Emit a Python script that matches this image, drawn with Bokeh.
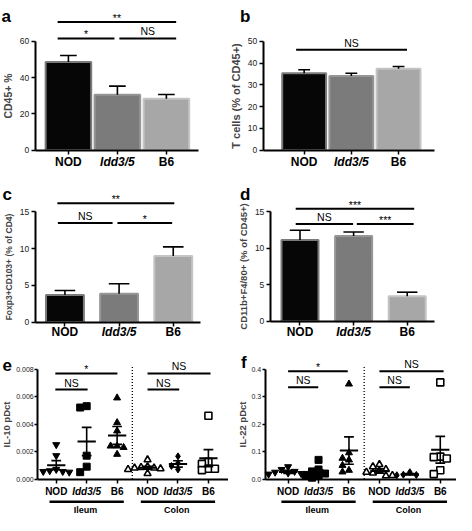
import numpy as np
from bokeh.plotting import figure
from bokeh.models import (Range1d, FixedTicker, CustomJSTickFormatter, PrintfTickFormatter)
from bokeh.layouts import gridplot
from bokeh.embed import file_html
from bokeh.resources import INLINE
from bokeh.core.properties import value

FONT = "Liberation Sans"
W = 228

# ---------------- data ----------------
groups = ["NOD", "Idd3/5", "B6"]
group_styles = ["bold", "bold italic", "bold"]

# panel a
a_mean = [48.6, 30.5, 28.3]
a_sem = [3.6, 4.8, 2.4]
a_ticks = [0, 20, 40, 60]
a_ylabel = "CD45+ %"
a_sig_x0 = [0.78, 0.78, 2.04]
a_sig_x1 = [3.20, 1.94, 3.20]
a_sig_y = [70.7, 61.6, 61.6]
a_sig_txt = ["**", "*", "NS"]

# panel b
b_mean = [35.3, 34.0, 37.4]
b_sem = [1.6, 1.3, 1.0]
b_ticks = [0, 10, 20, 30, 40, 50]
b_ylabel = "T cells (% of CD45+)"
b_sig_x0 = [0.83]
b_sig_x1 = [3.18]
b_sig_y = [46.1]
b_sig_txt = ["NS"]

# panel c
c_mean = [3.7, 3.85, 9.0]
c_sem = [0.6, 1.37, 1.25]
c_ticks = [0, 5, 10, 15]
c_ylabel = "Foxp3+CD103+ (% of CD4)"
c_sig_x0 = [0.86, 0.87, 1.97]
c_sig_x1 = [3.02, 1.88, 2.98]
c_sig_y = [16.2, 13.5, 13.5]
c_sig_txt = ["**", "NS", "*"]

# panel d
d_mean = [11.15, 11.7, 3.45]
d_sem = [1.35, 0.55, 0.55]
d_ticks = [0, 5, 10, 15]
d_ylabel = "CD11b+F4/80+ (% of CD45+)"
d_sig_x0 = [0.92, 0.92, 2.06]
d_sig_x1 = [3.13, 1.99, 3.12]
d_sig_y = [15.45, 13.36, 13.36]
d_sig_txt = ["***", "NS", "***"]

sites = ["Ileum", "Colon"]

# panel e  (IL-10), order: Ileum NOD, Idd3/5, B6, Colon NOD, Idd3/5, B6
e_ileum_nod = [0.0025, 0.0017, 0.0007, 0.0006, 0.00055, 0.0005, 0.00055]
e_ileum_idd = [0.0052, 0.0053, 0.0017, 0.0009, 0.0005]
e_ileum_b6 = [0.0059, 0.0041, 0.0035, 0.0024, 0.0023, 0.0024, 0.0018]
e_colon_nod = [0.0014, 0.0009, 0.0008, 0.00075, 0.0007, 0.0008, 0.00085, 0.0004]
e_colon_idd = [0.00165, 0.00115, 0.00095, 0.0007]
e_colon_b6 = [0.0046, 0.00125, 0.0011, 0.00075, 0.00065, 0.00075]
e_mean = [0.00101, 0.00273, 0.00317, 0.00082, 0.0011, 0.00152]
e_sem = [0.00033, 0.00103, 0.00065, 0.00010, 0.00023, 0.00062]
e_ticks = [0.0, 0.002, 0.004, 0.006, 0.008]
e_ylabel = "IL-10 pDct"
e_sig_x0 = [0.97, 0.97, 4.0, 4.0]
e_sig_x1 = [3.01, 2.03, 6.07, 5.04]
e_sig_y = [0.00768, 0.00651, 0.00768, 0.00651]
e_sig_txt = ["*", "NS", "NS", "NS"]

# panel f  (IL-22)
f_ileum_nod = [0.045, 0.035, 0.028, 0.025, 0.022, 0.02, 0.018]
f_ileum_idd = [0.07, 0.035, 0.028, 0.02, 0.015, 0.012, 0.005]
f_ileum_b6 = [0.347, 0.096, 0.076, 0.07, 0.05, 0.032, 0.026]
f_colon_nod = [0.053, 0.045, 0.035, 0.03, 0.025, 0.022, 0.013, 0.012]
f_colon_idd = [0.025, 0.016, 0.015, 0.014]
f_colon_b6 = [0.353, 0.082, 0.08, 0.075, 0.032, 0.018]
f_mean = [0.026, 0.026, 0.104, 0.029, 0.0175, 0.107]
f_sem = [0.0055, 0.008, 0.05, 0.008, 0.0025, 0.049]
f_ticks = [0.0, 0.1, 0.2, 0.3, 0.4]
f_ylabel = "IL-22 pDct"
f_sig_x0 = [1.0, 1.0, 4.0, 4.0]
f_sig_x1 = [2.96, 1.99, 6.11, 5.0]
f_sig_y = [0.394, 0.335, 0.394, 0.335]
f_sig_txt = ["*", "NS", "NS", "NS"]

# ---------------- styling ----------------
BAR_FILL = ["#060606", "#7b7b7b", "#a7a7a7"]
BAR_LINE = ["#7a7a7a", "#969696", "#c4c4c4"]
MARKERS = ["inverted_triangle", "square", "triangle", "triangle", "diamond", "square"]
M_FILL = ["black", "black", "black", "white", "black", "white"]
M_SIZE = [7, 7, 7, 7, 7, 7]


class Geo:
    """Maps reference-panel pixel positions to data space; the frame fills the panel."""
    def __init__(self, Href, H, L, Rpx, y0, yk, ymax, c1, cN, n):
        self.H = H
        self.Href = Href
        self.L, self.Rpx, self.y0 = L, Rpx, y0
        self.c1, self.sp = c1, (cN - c1) / (n - 1)
        self.ymax, self.yk = ymax, yk

    def xd(self, px):
        return 1 + (px - self.c1) / self.sp

    def yd(self, py):
        return self.ymax * (self.y0 - py) / (self.y0 - self.yk)

    @property
    def xr(self):
        return (self.xd(0), self.xd(236))

    @property
    def yr(self):
        return (self.yd(self.Href), self.yd(0))


def base_fig(g, ticks, ylabel, ylabel_size, tick_size, fmt, ncat, compact=False):
    p = figure(width=W, height=g.H, x_range=Range1d(*g.xr), y_range=Range1d(*g.yr),
               output_backend="svg", toolbar_location=None, title=None,
               min_border=0, min_border_left=0, min_border_right=0,
               min_border_top=0, min_border_bottom=0)
    p.outline_line_color = None
    p.xgrid.visible = False
    p.ygrid.visible = False
    p.background_fill_color = "white"
    p.border_fill_color = "white"
    ya = p.yaxis[0]
    ya.fixed_location = g.xd(g.L)
    ya.ticker = FixedTicker(ticks=ticks)
    ya.bounds = (0, ticks[-1])
    if fmt:
        ya.formatter = PrintfTickFormatter(format=fmt)
    ya.axis_line_width = 2
    ya.major_tick_line_width = 1.5
    ya.major_tick_out = 3 if compact else 4
    ya.major_tick_in = 0
    ya.minor_tick_line_color = None
    ya.major_label_text_font = FONT
    ya.major_label_text_font_size = tick_size
    ya.major_label_text_color = "#222222"
    ya.major_label_standoff = 1 if compact else 2
    ya.axis_label = ylabel
    ya.axis_label_text_font = FONT
    ya.axis_label_text_font_style = "bold"
    ya.axis_label_text_font_size = ylabel_size
    ya.axis_label_standoff = 1 if compact else 3
    xa = p.xaxis[0]
    xa.fixed_location = 0
    xa.bounds = (g.xd(g.L), g.xd(g.Rpx))
    xa.ticker = FixedTicker(ticks=list(range(1, ncat + 1)))
    xa.formatter = CustomJSTickFormatter(code="return ''")
    xa.axis_line_width = 2
    xa.major_tick_line_width = 1.5
    xa.major_tick_out = 4
    xa.major_tick_in = 0
    xa.minor_tick_line_color = None
    xa.major_label_text_font_size = "6px"
    return p


def sig_layer(p, x0, x1, y, txt, size):
    p.segment(x0=x0, y0=y, x1=x1, y1=y, line_color="black", line_width=2)
    xm = [(a + b) / 2 for a, b in zip(x0, x1)]
    offs = [2 if t.startswith("*") else -1 for t in txt]
    p.text(x=xm, y=y, text=txt, text_align="center", text_baseline="bottom",
           text_font=value(FONT), text_font_size=value(size), y_offset=offs,
           text_color="black")


def letter_label(p, g, letter, lx, lb):
    p.text(x=[g.xd(lx)], y=[g.yd(lb)], text=[letter], text_font=value(FONT),
           text_font_size=value("17px"), text_font_style="bold",
           text_baseline="alphabetic", text_align="left", text_color="black")


def cat_labels(p, g, labels, styles, dy, size):
    p.text(x=list(range(1, len(labels) + 1)), y=[g.yd(g.y0 + dy)] * len(labels),
           text=labels, text_font_style=styles, text_font=value(FONT),
           text_font_size=value(size), text_align="center", text_baseline="top",
           text_color="black")


def bar_panel(letter, lpos, ylabel, ylabel_size, mean, sem, ticks, sig, g,
              bar_w, cap_w, cat_dy, tick_size="8.5px"):
    p = base_fig(g, ticks, ylabel, ylabel_size, tick_size, None, 3)
    xs = list(range(1, len(groups) + 1))
    p.vbar(x=xs, top=mean, width=bar_w, bottom=0, fill_color=BAR_FILL,
           line_color=BAR_LINE, line_width=2)
    tops = [m + s for m, s in zip(mean, sem)]
    p.segment(x0=xs, y0=mean, x1=xs, y1=tops, line_color="black", line_width=1.6)
    p.segment(x0=[x - cap_w / 2 for x in xs], y0=tops, x1=[x + cap_w / 2 for x in xs],
              y1=tops, line_color="black", line_width=1.6)
    sig_layer(p, *sig, "10.5px")
    cat_labels(p, g, groups, group_styles, cat_dy, "12px")
    letter_label(p, g, letter, *lpos)
    return p


def swarm(vals, px_per_y, x_per_px, size_px):
    vals = np.asarray(vals, dtype=float)
    order = np.argsort(-vals)
    placed = []
    offs = np.zeros(len(vals))
    for i in order:
        yp = vals[i] * px_per_y
        xo = 0.0
        for k in [0, -1, 1, -2, 2, -3, 3, -4, 4]:
            xo = k * size_px
            if all(abs(xo - a) >= size_px * 0.95 or abs(yp - b) >= size_px * 0.95
                   for a, b in placed):
                break
        placed.append((xo, yp))
        offs[i] = xo * x_per_px
    return offs


def scatter_panel(letter, lpos, ylabel, series, mean, sem, ticks, fmt, sig, g):
    p = base_fig(g, ticks, ylabel, "9.5px", "7px", fmt, 6, compact=True)
    ncat = len(series)
    x0r, x1r = g.xr
    y0r, y1r = g.yr
    px_per_y = g.H / (y1r - y0r)
    x_per_px = (x1r - x0r) / W
    mid = (len(groups) + len(groups) + 1) / 2.0
    p.segment(x0=[mid], y0=[0], x1=[mid], y1=[ticks[-1] * 1.03], line_color="black",
              line_width=1.3, line_dash="1 2")
    for k, vals in enumerate(series):
        offs = swarm(vals, px_per_y, x_per_px, 6.5)
        xs = [k + 1 + o for o in offs]
        p.scatter(x=xs, y=vals, marker=MARKERS[k], size=M_SIZE[k], fill_color=M_FILL[k],
                  line_color="black", line_width=1.6 if M_FILL[k] == "white" else 1)
    xs = list(range(1, ncat + 1))
    up = [m + s for m, s in zip(mean, sem)]
    lo = [m - s for m, s in zip(mean, sem)]
    p.segment(x0=[x - 0.3 for x in xs], y0=mean, x1=[x + 0.3 for x in xs], y1=mean,
              line_color="black", line_width=2)
    p.segment(x0=xs, y0=lo, x1=xs, y1=up, line_color="black", line_width=1.6)
    p.segment(x0=[x - 0.16 for x in xs], y0=up, x1=[x + 0.16 for x in xs], y1=up,
              line_color="black", line_width=1.6)
    p.segment(x0=[x - 0.16 for x in xs], y0=lo, x1=[x + 0.16 for x in xs], y1=lo,
              line_color="black", line_width=1.6)
    sig_layer(p, *sig, "10.5px")
    cat_labels(p, g, groups + groups, group_styles + group_styles, 7, "10px")
    n = len(groups)
    centers = [s * n + (n + 1) / 2.0 for s in range(len(sites))]
    yl = g.yd(g.y0 + 23.5)
    p.segment(x0=[c - 1.22 for c in centers], y0=[yl] * len(sites),
              x1=[c + 1.22 for c in centers], y1=[yl] * len(sites),
              line_color="black", line_width=2.5)
    p.text(x=[c - 0.04 for c in centers], y=[g.yd(g.y0 + 26.5)] * len(sites), text=sites,
           text_font=value(FONT), text_font_size=value("9px"), text_font_style="bold",
           text_align="center", text_baseline="top", text_color="black")
    letter_label(p, g, letter, *lpos)
    return p


ga = Geo(175, 170, 36, 205, 154, 42, 60, 70.3, 171.7, 3)
gb = Geo(175, 170, 36, 213, 154, 42, 50, 78.3, 176.0, 3)
gc = Geo(175, 170, 36, 207, 156, 42.7, 15, 66.7, 178.8, 3)
gd = Geo(175, 170, 43.3, 213, 155.3, 42.7, 15, 74.0, 185.0, 3)
ge = Geo(181, 175, 38.5, 236, 143.3, 29.5, 0.008, 57.7, 215.2, 6)
gf = Geo(181, 175, 38.0, 236, 143.3, 30.0, 0.4, 61.7, 219.2, 6)

pa = bar_panel("a", (1, 16), a_ylabel, "10.5px", a_mean, a_sem, a_ticks,
               (a_sig_x0, a_sig_x1, a_sig_y, a_sig_txt), ga, 0.93, 0.34, 5)
pb = bar_panel("b", (12, 16), b_ylabel, "11px", b_mean, b_sem, b_ticks,
               (b_sig_x0, b_sig_x1, b_sig_y, b_sig_txt), gb, 0.93, 0.25, 5)
pc = bar_panel("c", (2, 25), c_ylabel, "8.5px", c_mean, c_sem, c_ticks,
               (c_sig_x0, c_sig_x1, c_sig_y, c_sig_txt), gc, 0.70, 0.38, 3.5)
pd = bar_panel("d", (12, 25), d_ylabel, "9.5px", d_mean, d_sem, d_ticks,
               (d_sig_x0, d_sig_x1, d_sig_y, d_sig_txt), gd, 0.69, 0.38, 4)
pe = scatter_panel("e", (2, 25), e_ylabel,
                   [e_ileum_nod, e_ileum_idd, e_ileum_b6, e_colon_nod, e_colon_idd, e_colon_b6],
                   e_mean, e_sem, e_ticks, "%.3f",
                   (e_sig_x0, e_sig_x1, e_sig_y, e_sig_txt), ge)
pf = scatter_panel("f", (13, 23), f_ylabel,
                   [f_ileum_nod, f_ileum_idd, f_ileum_b6, f_colon_nod, f_colon_idd, f_colon_b6],
                   f_mean, f_sem, f_ticks, "%.1f",
                   (f_sig_x0, f_sig_x1, f_sig_y, f_sig_txt), gf)

grid = gridplot([[pa, pb], [pc, pd], [pe, pf]], toolbar_location=None)

open("out.html", "w").write(file_html(grid, INLINE))
